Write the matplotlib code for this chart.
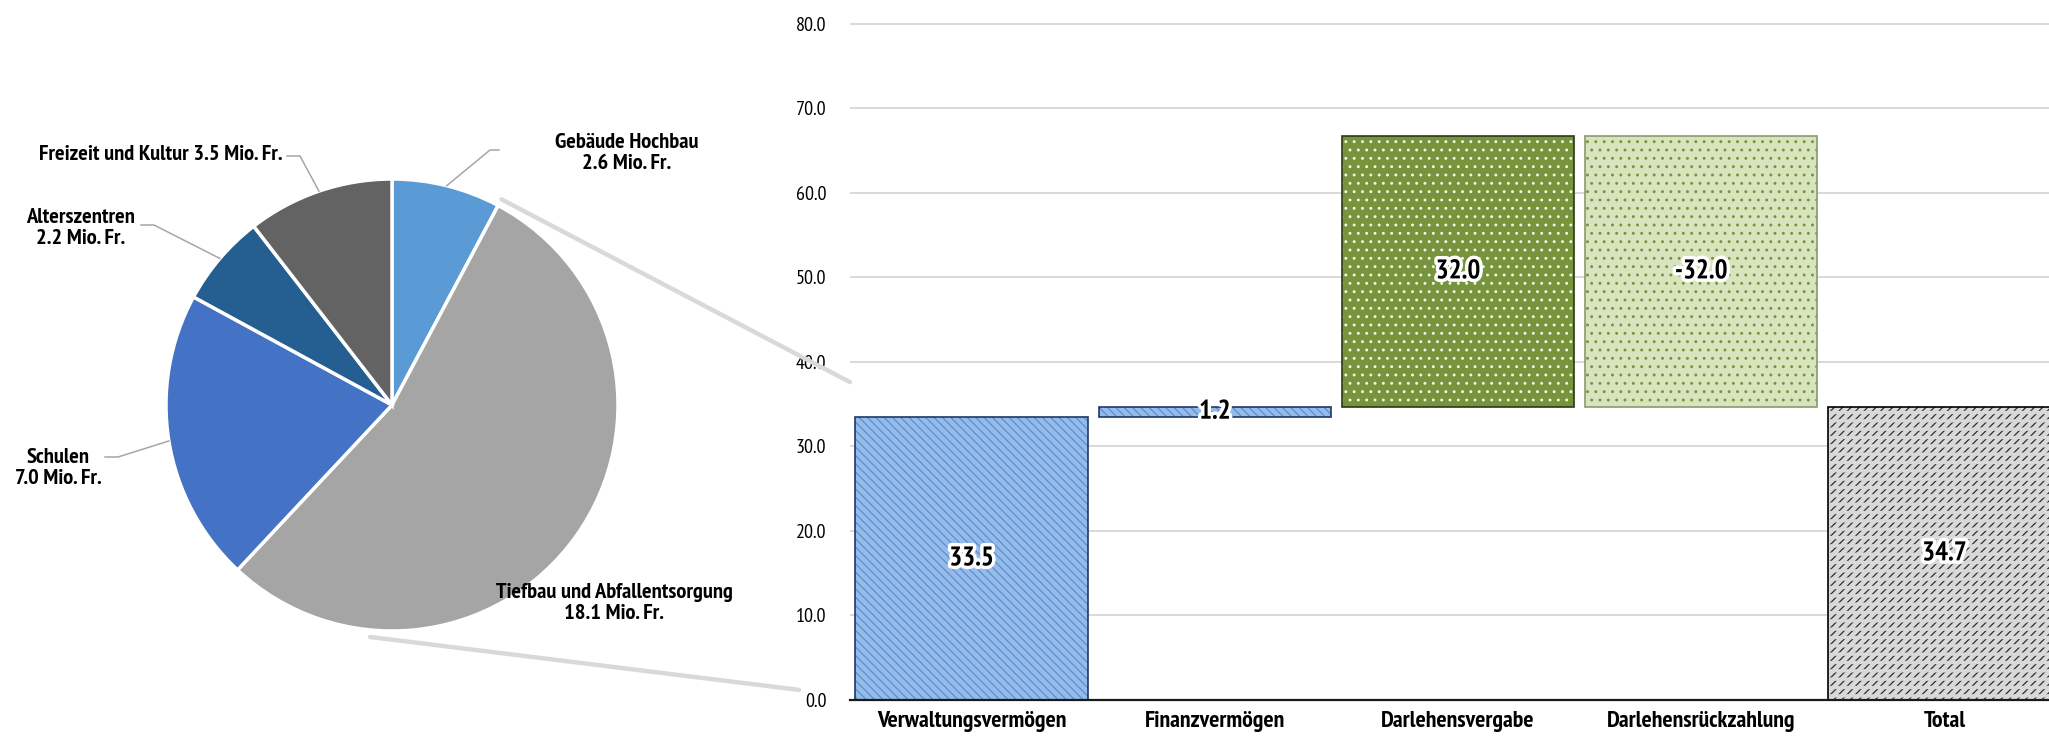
import matplotlib
matplotlib.use("Agg")
import matplotlib.pyplot as plt
import matplotlib.patheffects as pe
from matplotlib.patches import ConnectionPatch
from matplotlib import font_manager
import numpy as np

# pie data (Mio. Fr.)
pie_names = ["Gebäude Hochbau", "Tiefbau und Abfallentsorgung", "Schulen",
             "Alterszentren", "Freizeit und Kultur"]
pie_values = [2.6, 18.1, 7.0, 2.2, 3.5]
pie_colors = ["#5B9BD5", "#A5A5A5", "#4472C4", "#255E91", "#636363"]

# waterfall data
categories = ["Verwaltungsvermögen", "Finanzvermögen", "Darlehensvergabe",
              "Darlehensrückzahlung", "Total"]
changes = [33.5, 1.2, 32.0, -32.0]
total = 34.7
bar_faces = ["#95BCE8", "#95BCE8", "#77933C", "#D7E4BD", "#D9D9D9"]
bar_hatch_colors = ["#5B8ED6", "#5B8ED6", "#F2F7E8", "#77933C", "#2E2E2E"]
bar_edges = ["#1F3864", "#1F3864", "#2B3A14", "#8A9A70", "#000000"]
bar_hatches = ["\\\\\\\\", "\\\\\\\\", "..", "..", "////"]


# look for a narrow font that also has a bold face (Arial Narrow look)
def wnum(w):
    return w if isinstance(w, int) else font_manager.weight_dict.get(w, 400)


entries = font_manager.fontManager.ttflist
narrow_bold = sorted({f.name for f in entries if "Narrow" in f.name and wnum(f.weight) >= 600})
if "Liberation Sans Narrow" in narrow_bold:
    narrow_bold.insert(0, "Liberation Sans Narrow")
if narrow_bold:
    FONT, SC = [narrow_bold[0], "DejaVu Sans"], 1.0
else:
    FONT, SC = ["Liberation Sans", "DejaVu Sans"], 0.86
plt.rcParams["font.family"] = FONT
plt.rcParams["hatch.linewidth"] = 0.9

W, H = 2049, 738
fig = plt.figure(figsize=(W / 100, H / 100), dpi=100)

# ---------- pie (axes in pixel units) ----------
axp = fig.add_axes([0, 0, 850 / W, 1])
cx, cy, r = 392, H - 405, 226
wedges, _ = axp.pie(pie_values, colors=pie_colors, startangle=90, counterclock=False,
                    center=(cx, cy), radius=r, frame=True,
                    wedgeprops=dict(edgecolor="white", linewidth=2.5))
axp.set_xlim(0, 850)
axp.set_ylim(0, H)
axp.axis("off")

lab_style = dict(fontsize=16.2 * SC, fontweight="bold", color="black")
# label position (image px), alignment, leader elbow (image px) or None
label_layout = [
    ((627, 153), "center", [(490, 150), (499, 150)]),
    ((614, 603), "center", None),
    ((58, 468), "center", [(118, 457), (105, 457)]),
    ((81, 228), "center", [(154, 225), (141, 225)]),
    ((283, 154), "right", [(300, 156), (287, 156)]),
]
for w, name, val, (pos, ha, elbow) in zip(wedges, pie_names, pie_values, label_layout):
    if name == "Freizeit und Kultur":
        txt = f"{name} {val:.1f} Mio. Fr."
    else:
        txt = f"{name}\n{val:.1f} Mio. Fr."
    axp.text(pos[0], H - pos[1], txt, ha=ha, va="center", linespacing=1.1, **lab_style)
    if elbow:
        mid = np.deg2rad((w.theta1 + w.theta2) / 2)
        xs = [cx + r * np.cos(mid)] + [p[0] for p in elbow]
        ys = [cy + r * np.sin(mid)] + [H - p[1] for p in elbow]
        axp.plot(xs, ys, color="#A6A6A6", lw=1.1, clip_on=False)

# ---------- waterfall ----------
axb = fig.add_axes([850 / W, 1 - 700 / H, 1 - 850 / W, (700 - 22) / H])
x = np.arange(len(categories))
bottoms, heights = [], []
run = 0.0
for c in changes:
    bottoms.append(run if c >= 0 else run + c)
    heights.append(abs(c))
    run += c
bottoms.append(0)
heights.append(total)
labels = [f"{c:.1f}" for c in changes] + [f"{total:.1f}"]

bw = 0.955
axb.bar(x, heights, bw, bottom=bottoms, color=bar_faces, hatch=bar_hatches,
        edgecolor=bar_hatch_colors, linewidth=0, zorder=2)
# break the total's slashes into short dashes, like the original texture
with plt.rc_context({"hatch.linewidth": 2.4}):
    brk = axb.bar(x[-1:], heights[-1:], bw, bottom=bottoms[-1:], fill=False,
                  hatch="--", edgecolor=bar_faces[-1], linewidth=0, zorder=2.5)
    for p in brk:
        if hasattr(p, "set_hatch_linewidth"):
            p.set_hatch_linewidth(2.4)
axb.bar(x, heights, bw, bottom=bottoms, fill=False, edgecolor=bar_edges,
        linewidth=1.2, zorder=3)
for xi, b, h, t in zip(x, bottoms, heights, labels):
    axb.text(xi, b + h / 2, t, ha="center", va="center", fontsize=19.5 * SC,
             fontweight="bold", zorder=5,
             path_effects=[pe.withStroke(linewidth=5, foreground="white")])

axb.set_xlim(-0.5, 4.43)
axb.set_ylim(0, 80.2)
axb.set_yticks(np.arange(0, 81, 10))
axb.set_yticklabels([f"{v:.1f}" for v in np.arange(0, 81, 10)], fontsize=14.5 * SC)
axb.set_xticks(x)
axb.set_xticklabels(categories, fontsize=17.2 * SC, fontweight="bold")
axb.tick_params(axis="y", length=0, pad=17)
axb.tick_params(axis="x", length=0, pad=8)
axb.grid(axis="y", color="#D9D9D9", linewidth=1.4, zorder=0)
axb.set_axisbelow(True)
for s in ["top", "right", "left"]:
    axb.spines[s].set_visible(False)
axb.spines["bottom"].set_color("#1A1A1A")
axb.spines["bottom"].set_linewidth(1.6)
axb.spines["bottom"].set_zorder(4)

# ---------- connector lines from pie to waterfall ----------
b0 = np.deg2rad(90 - 360 * pie_values[0] / sum(pie_values))
b1 = np.deg2rad(-95.4)
for ang, target in [(b0, (-0.5, 37.6)), (b1, (-0.71, 1.2))]:
    start = (cx + (r + 7) * np.cos(ang), cy + (r + 7) * np.sin(ang))
    con = ConnectionPatch(xyA=start, coordsA=axp.transData, xyB=target,
                          coordsB=axb.transData, color="#D9D9D9", lw=3.2, zorder=1)
    fig.add_artist(con)

fig.savefig("out.png", dpi=100)
